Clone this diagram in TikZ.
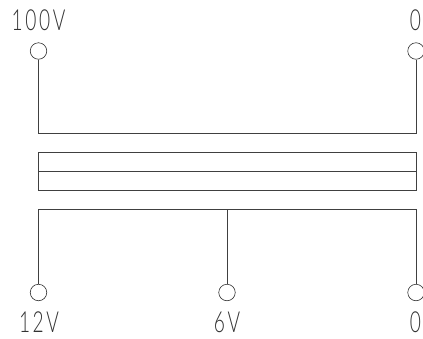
\documentclass[tikz,border=0pt]{standalone}
\usepackage{fontspec}
\setmainfont{Lato Light}[LetterSpace=9,FakeStretch=0.66]
\usetikzlibrary{positioning}
\tikzset{
  terminal/.style={draw=black!80,shape=circle,inner sep=0pt,minimum size=16.5pt,line width=.6pt},
  wire/.style={draw=black!75,line width=.8pt},
  pinlabel/.style={inner sep=0pt,text=black!80,font=\fontsize{29}{29}\selectfont}
}
\begin{document}
\begin{tikzpicture}[x=1pt,y=-1pt]
  \useasboundingbox (0,0) rectangle (423,338);
  \path (38.5,51) node[terminal] (t1) {} (416,51) node[terminal] (t2) {}
  (38.5,292.5) node[terminal] (t3) {} (227,292.5) node[terminal] (t4) {} (416,292.5) node[terminal] (t5) {};
  \path (38.5,133) coordinate (c1) (416,133) coordinate (c2)
  (38.5,152) coordinate (k1) (416,190) coordinate (k2)
  (38.5,171) coordinate (m1) (416,171) coordinate (m2)
  (38.5,209) coordinate (s1) (227,209) coordinate (s2) (416,209) coordinate (s3);
  \draw[wire] (t1) -- (c1) -- (c2) -- (t2);
  \draw[wire] (k1) rectangle (k2);
  \draw[wire] (m1) -- (m2);
  \draw[wire] (t3) -- (s1) -- (s3) -- (t5);
  \draw[wire] (s2) -- (t4);
  \path (38.5,20.5) node[pinlabel] (l1) {100V} (415.5,20.5) node[pinlabel] (l2) {0}
  (39,322.5) node[pinlabel] (l3) {12V} (227,322.5) node[pinlabel] (l4) {6V} (415.5,322.5) node[pinlabel] (l5) {0};
\end{tikzpicture}
\end{document}
